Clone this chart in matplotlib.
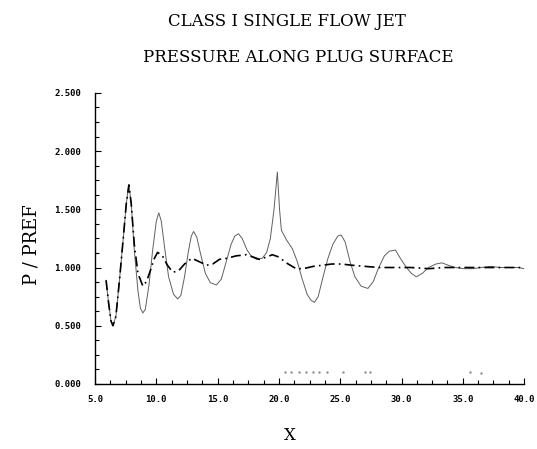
import matplotlib
matplotlib.use('Agg')
import matplotlib.pyplot as plt

# --- data ---
# solid line (P/PREF along plug surface)
x_solid = [5.9, 6.1, 6.3, 6.46, 6.7, 7.0, 7.3, 7.55, 7.76, 7.95, 8.2, 8.5, 8.7, 8.9,
           9.1, 9.4, 9.7, 10.0, 10.2, 10.4, 10.7, 11.0, 11.4, 11.74, 12.0, 12.3, 12.6,
           12.85, 13.04, 13.3, 13.6, 14.0, 14.4, 14.9, 15.3, 15.7, 16.1, 16.4, 16.7,
           17.0, 17.4, 17.8, 18.2, 18.65, 19.0, 19.3, 19.6, 19.87, 20.05, 20.2, 20.6,
           21.1, 21.5, 21.9, 22.3, 22.6, 22.9, 23.2, 23.6, 24.0, 24.4, 24.8, 25.07,
           25.4, 25.8, 26.2, 26.7, 27.26, 27.7, 28.1, 28.6, 29.0, 29.5, 29.9, 30.4,
           30.8, 31.2, 31.7, 32.2, 32.8, 33.3, 33.8, 34.4, 35.06, 35.8, 36.5, 37.3,
           38.0, 38.8, 39.5, 40.0]
y_solid = [0.89, 0.70, 0.54, 0.50, 0.58, 0.90, 1.25, 1.55, 1.71, 1.55, 1.15, 0.80, 0.65, 0.61,
           0.64, 0.85, 1.15, 1.40, 1.47, 1.40, 1.15, 0.92, 0.77, 0.73, 0.76, 0.92, 1.13,
           1.27, 1.31, 1.26, 1.12, 0.95, 0.87, 0.85, 0.90, 1.05, 1.20, 1.27, 1.29,
           1.25, 1.15, 1.09, 1.07, 1.08, 1.13, 1.25, 1.50, 1.82, 1.50, 1.32, 1.24,
           1.16, 1.05, 0.90, 0.77, 0.72, 0.70, 0.75, 0.92, 1.08, 1.20, 1.27, 1.28,
           1.22, 1.05, 0.92, 0.84, 0.82, 0.88, 0.99, 1.10, 1.14, 1.15, 1.08, 1.00,
           0.95, 0.92, 0.95, 1.00, 1.03, 1.04, 1.02, 1.00, 0.99, 0.99, 1.00, 1.01,
           1.00, 1.00, 1.00, 0.99]

# dash-dot line
x_dash = [5.9, 6.1, 6.3, 6.46, 6.7, 7.0, 7.3, 7.55, 7.76, 7.95, 8.2, 8.5, 8.9, 9.2, 9.5,
          9.8, 10.1, 10.5, 10.9, 11.34, 11.8, 12.3, 12.9, 13.5, 14.1, 14.6, 15.15, 15.8,
          16.5, 17.35, 17.9, 18.4, 19.0, 19.46, 20.0, 20.6, 21.4, 22.0, 22.8, 23.6, 24.3,
          25.1, 25.9, 27.0, 28.15, 29.5, 30.8, 32.2, 33.5, 35.0, 36.5, 38.0, 39.5, 40.0]
y_dash = [0.89, 0.70, 0.54, 0.50, 0.58, 0.90, 1.25, 1.55, 1.71, 1.55, 1.20, 0.95, 0.84, 0.88, 0.97,
          1.07, 1.13, 1.10, 1.02, 0.96, 0.97, 1.03, 1.08, 1.05, 1.02, 1.03, 1.07, 1.08,
          1.10, 1.11, 1.09, 1.07, 1.09, 1.11, 1.09, 1.04, 0.99, 0.99, 1.01, 1.02, 1.03,
          1.03, 1.02, 1.01, 1.00, 1.00, 1.00, 0.99, 1.00, 1.00, 1.00, 1.00, 1.00, 1.00]

# faint dots near the bottom
x_dots = [20.5, 21.0, 21.6, 22.2, 22.8, 23.3, 23.9, 25.2, 27.0, 27.4, 35.6, 36.5]
y_dots = [0.10, 0.10, 0.10, 0.10, 0.10, 0.10, 0.10, 0.10, 0.10, 0.10, 0.10, 0.09]

yticks = [0.0, 0.5, 1.0, 1.5, 2.0, 2.5]
xticks = [5, 10, 15, 20, 25, 30, 35, 40]

fig = plt.figure(figsize=(5.37, 4.49), dpi=100)
ax = fig.add_axes([0.177, 0.145, 0.799, 0.648])

ax.plot(x_solid, y_solid, color='#606060', lw=0.7)
ax.plot(x_dash, y_dash, color='black', lw=1.2, dashes=(6, 2.5, 1, 2.5))
ax.plot(x_dots, y_dots, ls='none', marker='.', ms=1.5, color='#909090')

ax.set_xlim(5, 40)
ax.set_ylim(0, 2.5)
ax.set_xticks(xticks)
ax.set_yticks(yticks)
ax.set_xticks([5 + 1.25 * i for i in range(29)], minor=True)
ax.set_yticks([0.125 * i for i in range(21)], minor=True)
ax.set_xticklabels(['%.1f' % v for v in xticks])
ax.set_yticklabels(['%.3f' % v for v in yticks])

for s in ['top', 'right']:
    ax.spines[s].set_visible(False)
ax.spines['left'].set_linewidth(1.0)
ax.spines['bottom'].set_linewidth(1.0)
ax.tick_params(which='both', direction='in', color='black', width=0.8)
ax.tick_params(which='major', length=4)
ax.tick_params(which='minor', length=3)
ax.tick_params(axis='y', pad=10)
ax.tick_params(axis='x', pad=8)
for lab in ax.get_xticklabels() + ax.get_yticklabels():
    lab.set_fontfamily('DejaVu Sans Mono')
    lab.set_fontsize(6.5)
    lab.set_fontweight('bold')

serif = 'DejaVu Serif'
fig.text(287 / 537, 1 - 21 / 449, 'CLASS I SINGLE FLOW JET', family=serif,
         fontsize=12, ha='center', va='center')
fig.text(298 / 537, 1 - 58 / 449, 'PRESSURE ALONG PLUG SURFACE', family=serif,
         fontsize=12, ha='center', va='center')
fig.text(31 / 537, 1 - 245 / 449, 'P / PREF', family=serif, fontsize=13,
         rotation=90, ha='center', va='center')
fig.text(290 / 537, 1 - 436 / 449, 'X', family=serif, fontsize=12,
         ha='center', va='center')

fig.savefig('out.png', dpi=100)
